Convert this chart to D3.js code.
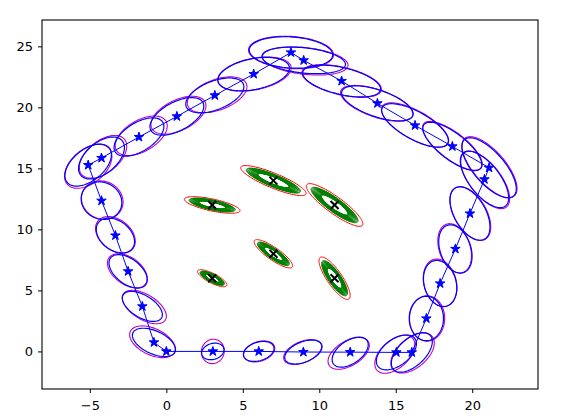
<!DOCTYPE html>
<html>
<head>
<meta charset="utf-8">
<script src="https://cdn.jsdelivr.net/npm/d3@7"></script>
<style>
  body { margin: 0; background: #fff; }
  .tick text { font-family: "DejaVu Sans", sans-serif; font-size: 13px; fill: #000; }
</style>
</head>
<body>
<script>

// robot path (estimated poses)
var poseX = [0, 3.04, 6.04, 8.96, 12.02, 15.04, 16.05, 17.0, 17.9, 18.9, 19.85, 20.8, 21.1, 18.7, 16.26,
             13.8, 11.46, 8.98, 8.15, 5.71, 3.17, 0.69, -1.79, -4.24, -5.11, -4.24, -3.33, -2.5, -1.57, -0.81];
var poseY = [0, 0, 0, -0.05, -0.06, -0.08, -0.08, 2.7, 5.57, 8.4, 11.3, 14.1, 15.05, 16.8, 18.52,
             20.33, 22.16, 23.85, 24.5, 22.73, 20.98, 19.26, 17.57, 15.85, 15.27, 12.35, 9.5, 6.56, 3.69, 0.74];

// blue pose ellipses: [sx, sy, rho] (null = no ellipse at start)
var poseCov = [null, [0.73, 0.68, 0.2], [1.0, 0.82, 0.3], [1.22, 0.98, 0.45], [1.18, 1.23, 0.5],
  [1.31, 1.43, 0.5], [1.34, 1.62, 0.55], [1.12, 1.82, 0], [1.09, 1.89, -0.2], [1.09, 1.98, -0.3],
  [1.31, 2.19, -0.5], [1.58, 2.32, -0.65], [1.78, 2.46, -0.7], [1.93, 1.98, -0.75], [2.18, 1.78, -0.7],
  [2.34, 1.43, -0.6], [2.55, 1.30, -0.5], [2.73, 1.09, -0.3], [2.73, 1.29, -0.15], [2.34, 1.37, 0.35],
  [1.90, 1.43, 0.5], [1.76, 1.54, 0.55], [1.63, 1.57, 0.55], [1.50, 1.72, 0.5], [1.52, 1.72, 0.5],
  [1.33, 1.54, -0.1], [1.25, 1.43, -0.35], [1.25, 1.37, -0.5], [1.31, 1.23, -0.55], [1.41, 1.16, -0.5]];

// magenta pose ellipses: [dx, dy, sx, sy, rho]
var poseCov2 = [null, [0, 0, 0.75, 1.0, 0.05], [0.03, 0, 1.02, 0.86, 0.3], [-0.05, 0, 1.24, 1.02, 0.45],
  [-0.1, -0.1, 1.35, 1.3, 0.5], [-0.1, -0.15, 1.31, 1.56, 0.5], [0.05, -0.05, 1.42, 1.64, 0.5],
  [0.05, 0, 1.15, 1.86, 0], [0, 0.05, 1.1, 1.95, -0.2], [-0.05, 0.05, 1.1, 2.02, -0.3],
  [0.03, 0, 1.33, 2.2, -0.5], [0.05, -0.05, 1.6, 2.35, -0.65], [0.03, 0.05, 1.8, 2.5, -0.7],
  [0, 0.05, 1.95, 2.0, -0.75], [0, 0.03, 2.2, 1.82, -0.7], [-0.05, 0, 2.36, 1.47, -0.6],
  [0, 0, 2.6, 1.34, -0.5], [0.1, -0.05, 2.8, 1.15, -0.3], [0, 0, 2.78, 1.33, -0.15],
  [0.05, 0, 2.4, 1.4, 0.35], [0.15, 0.05, 1.95, 1.47, 0.45], [0.1, 0.1, 1.8, 1.55, 0.5],
  [0.15, 0.1, 1.7, 1.62, 0.5], [0.1, 0.1, 1.55, 1.75, 0.5], [0, -0.1, 1.55, 1.8, 0.45],
  [0.05, 0.05, 1.36, 1.58, -0.1], [0, 0.05, 1.3, 1.5, -0.35], [-0.05, 0.05, 1.3, 1.4, -0.45],
  [0.13, -0.05, 1.44, 1.37, -0.55], [-0.1, 0.05, 1.49, 1.3, -0.45]];

// landmarks and their (initial) covariance ellipses: [sx, sy, rho]
var lmX = [3, 3, 7, 7, 11, 11];
var lmY = [6, 12, 8, 14, 6, 12];
var lmCov = [[0.96, 0.70, -0.78], [1.82, 0.68, -0.68], [1.26, 1.16, -0.85],
             [2.14, 1.23, -0.85], [1.02, 1.74, -0.82], [1.85, 1.75, -0.88]];
// shrinking landmark covariance over the run (fraction of initial size)
var lmShrink = [0.83, 0.8, 0.77, 0.74, 0.72, 0.69, 0.67, 0.65, 0.63, 0.61, 0.59, 0.57, 0.55, 0.53,
                0.51, 0.5, 0.49, 0.48, 0.47];

var xTicks = [-5, 0, 5, 10, 15, 20];
var yTicks = [0, 5, 10, 15, 20, 25];

var width = 569,
    height = 420;

var svg = d3.select('body')
    .append('svg')
    .attr('width', width)
    .attr('height', height);

var x = d3.scaleLinear().domain([-8.13, 24.3]).range([42, 538]);
var y = d3.scaleLinear().domain([-3.08, 27.16]).range([389, 20]);

var line = d3.line()
    .x(function(d) { return x(d[0]); })
    .y(function(d) { return y(d[1]); });

// ellipse through its bounding half-widths and correlation
function ellipse(cx, cy, sx, sy, rho) {
    var pts = d3.range(0, 97).map(function(i) {
        var t = i / 96 * 2 * Math.PI;
        return [cx + sx * Math.cos(t),
                cy + sy * (rho * Math.cos(t) + Math.sqrt(1 - rho * rho) * Math.sin(t))];
    });
    return line(pts) + 'Z';
}

var poses = poseX.map(function(v, i) { return [v, poseY[i]]; });

// landmark ellipses
var lm = svg.append('g').attr('class', 'landmarks');
lmX.forEach(function(lx, i) {
    var c = lmCov[i];
    lm.append('path')
        .attr('d', ellipse(lx, lmY[i], c[0], c[1], c[2]))
        .attr('fill', 'none')
        .attr('stroke', '#ff0000')
        .attr('stroke-width', 1);
    lmShrink.forEach(function(k) {
        lm.append('path')
            .attr('d', ellipse(lx, lmY[i], c[0] * k, c[1] * k, c[2]))
            .attr('fill', 'none')
            .attr('stroke', '#008000')
            .attr('stroke-width', 1);
    });
});

// pose ellipses
var pe = svg.append('g').attr('class', 'pose-ellipses');
poses.forEach(function(p, i) {
    var m = poseCov2[i];
    if (m) {
        pe.append('path')
            .attr('d', ellipse(p[0] + m[0], p[1] + m[1], m[2], m[3], m[4]))
            .attr('fill', 'none')
            .attr('stroke', '#bf00bf')
            .attr('stroke-width', 1.1);
    }
});
poses.forEach(function(p, i) {
    var c = poseCov[i];
    if (c) {
        pe.append('path')
            .attr('d', ellipse(p[0], p[1], c[0], c[1], c[2]))
            .attr('fill', 'none')
            .attr('stroke', '#0000ff')
            .attr('stroke-width', 1.2);
    }
});

// path
svg.append('path')
    .datum(poses.concat([poses[0]]))
    .attr('d', line)
    .attr('fill', 'none')
    .attr('stroke', '#0000ff')
    .attr('stroke-width', 1);

svg.append('g')
    .selectAll('path')
    .data(poses)
    .enter().append('path')
    .attr('d', d3.symbol().type(d3.symbolStar).size(28))
    .attr('transform', function(d) { return 'translate(' + x(d[0]) + ',' + y(d[1]) + ')'; })
    .attr('fill', '#0000ff')
    .attr('stroke', '#0000ff')
    .attr('stroke-width', 1)
    .attr('stroke-linejoin', 'round');

// landmark markers
svg.append('g')
    .selectAll('path')
    .data(lmX)
    .enter().append('path')
    .attr('d', 'M-4,-4L4,4M-4,4L4,-4')
    .attr('transform', function(d, i) { return 'translate(' + x(d) + ',' + y(lmY[i]) + ')'; })
    .attr('stroke', '#000')
    .attr('stroke-width', 2);

// axes
var fmt = function(d) { return String(d).replace('-', '\u2212'); };

svg.append('g')
    .attr('transform', 'translate(0,389)')
    .call(d3.axisBottom(x).tickValues(xTicks).tickFormat(fmt).tickSize(4).tickPadding(8))
    .call(function(g) { g.select('.domain').remove(); });

svg.append('g')
    .attr('transform', 'translate(42,0)')
    .call(d3.axisLeft(y).tickValues(yTicks).tickFormat(fmt).tickSize(4).tickPadding(5))
    .call(function(g) { g.select('.domain').remove(); });

svg.selectAll('.tick line').attr('stroke', '#000');

svg.append('rect')
    .attr('x', 42)
    .attr('y', 20)
    .attr('width', 496)
    .attr('height', 369)
    .attr('fill', 'none')
    .attr('stroke', '#000')
    .attr('stroke-width', 1.1);

</script>
</body>
</html>
